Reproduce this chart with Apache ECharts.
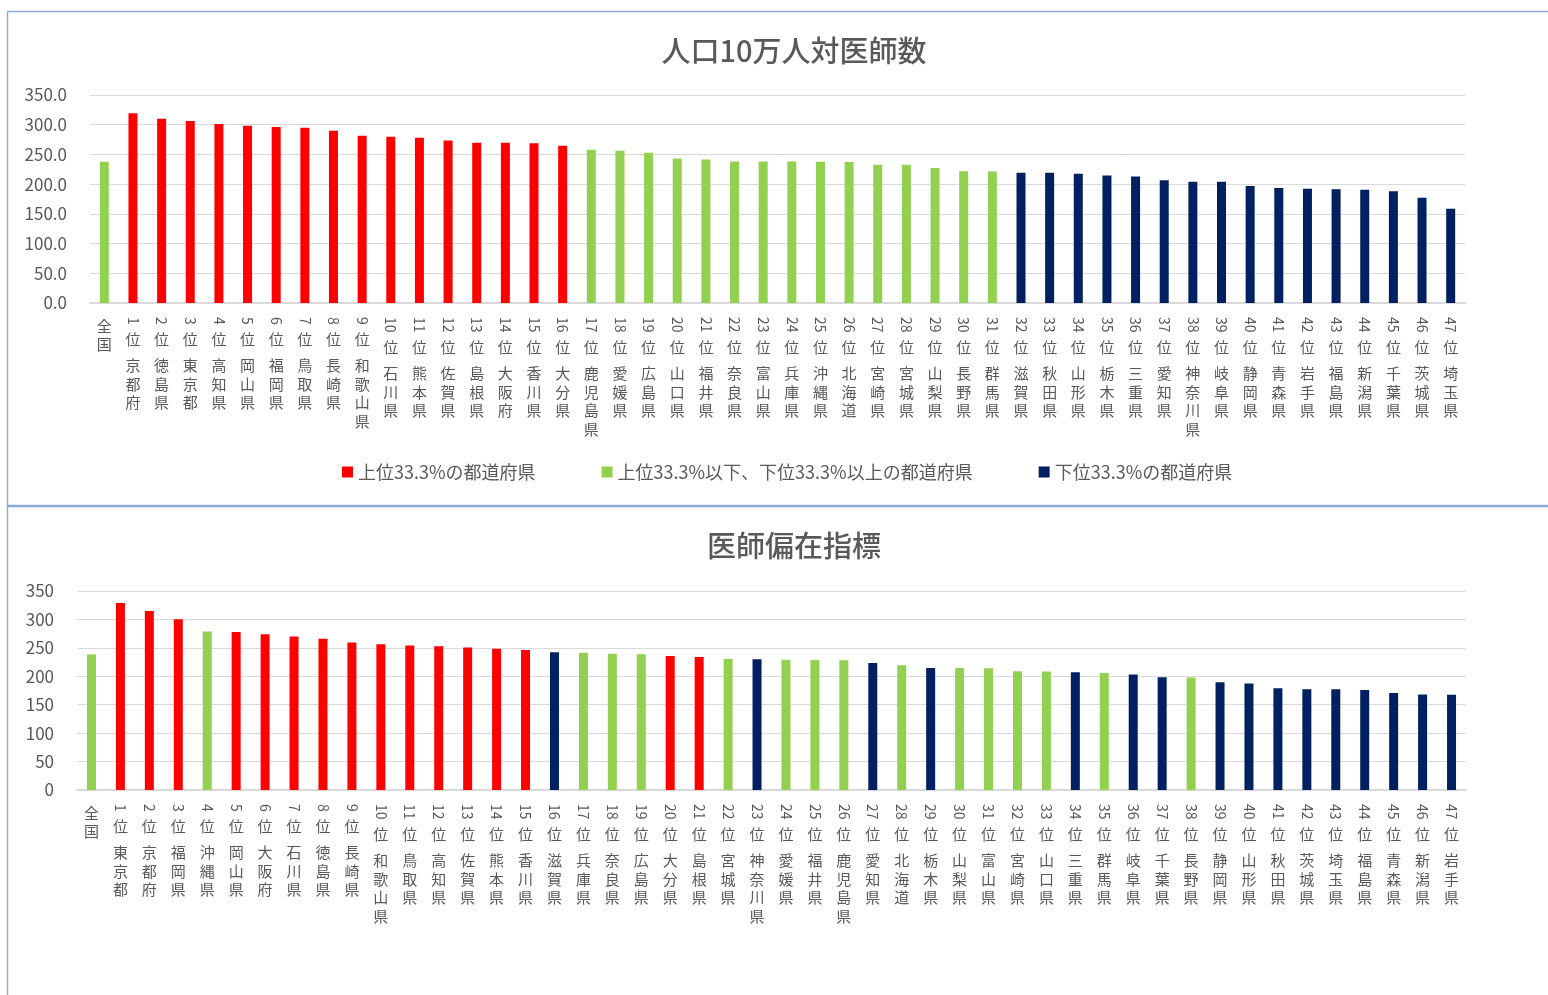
<!DOCTYPE html>
<html lang="ja">
<head>
<meta charset="utf-8">
<title>人口10万人対医師数・医師偏在指標</title>
<script src="https://cdn.jsdelivr.net/npm/echarts@6/dist/echarts.min.js"></script>
<style>
  html, body { margin: 0; padding: 0; background: #ffffff; }
  #chart { width: 1548px; height: 995px; }
</style>
</head>
<body>
<div id="chart"></div>
<script>
// 人口10万人対医師数（順位順）
const TOP_NAMES = ['全国', '京都府', '徳島県', '東京都', '高知県', '岡山県', '福岡県', '鳥取県', '長崎県', '和歌山県',
  '石川県', '熊本県', '佐賀県', '島根県', '大阪府', '香川県', '大分県', '鹿児島県', '愛媛県', '広島県',
  '山口県', '福井県', '奈良県', '富山県', '兵庫県', '沖縄県', '北海道', '宮崎県', '宮城県', '山梨県',
  '長野県', '群馬県', '滋賀県', '秋田県', '山形県', '栃木県', '三重県', '愛知県', '神奈川県', '岐阜県',
  '静岡県', '青森県', '岩手県', '福島県', '新潟県', '千葉県', '茨城県', '埼玉県'];
const TOP_VALUES = [237.7, 319.2, 310.2, 306.2, 301.2, 298.4, 296.1, 295.0, 290.0, 281.6,
  279.9, 278.2, 273.6, 269.8, 269.5, 268.6, 264.7, 258.0, 256.3, 252.9,
  243.3, 241.6, 238.2, 238.2, 238.2, 237.7, 237.1, 232.7, 232.7, 227.0,
  221.9, 221.4, 219.2, 219.2, 217.5, 214.6, 212.9, 206.7, 204.0, 204.0,
  196.7, 193.3, 192.2, 191.6, 190.5, 188.2, 177.0, 158.5];

// 医師偏在指標（順位順）
const BOTTOM_NAMES = ['全国', '東京都', '京都府', '福岡県', '沖縄県', '岡山県', '大阪府', '石川県', '徳島県', '長崎県',
  '和歌山県', '鳥取県', '高知県', '佐賀県', '熊本県', '香川県', '滋賀県', '兵庫県', '奈良県', '広島県',
  '大分県', '島根県', '宮城県', '神奈川県', '愛媛県', '福井県', '鹿児島県', '愛知県', '北海道', '栃木県',
  '山梨県', '富山県', '宮崎県', '山口県', '三重県', '群馬県', '岐阜県', '千葉県', '長野県', '静岡県',
  '山形県', '秋田県', '茨城県', '埼玉県', '福島県', '青森県', '新潟県', '岩手県'];
const BOTTOM_VALUES = [238.3, 328.9, 314.9, 300.4, 278.8, 278.1, 274.1, 270.0, 265.8, 259.5,
  256.5, 254.2, 253.0, 250.7, 248.3, 246.2, 242.1, 241.5, 239.8, 238.6,
  235.7, 233.9, 230.4, 229.8, 229.3, 228.7, 228.1, 223.4, 219.3, 214.7,
  214.7, 214.1, 208.8, 208.3, 207.1, 205.9, 203.0, 198.3, 197.8, 189.6,
  187.3, 179.1, 177.4, 177.4, 175.7, 170.5, 168.0, 167.4];

// 区分（人口10万人対医師数の順位による）
const TIER_NAMES = ['上位33.3%の都道府県', '上位33.3%以下、下位33.3%以上の都道府県', '下位33.3%の都道府県'];
const TIER_COLORS = ['#FF0000', '#92D050', '#002060'];
const TIER_RANK_LIMITS = [16, 31];

const TITLES = ['人口10万人対医師数', '医師偏在指標'];
const Y_MAX = 350;
const Y_STEP = 50;

const FONT = '"Noto Sans CJK JP", "Noto Sans", sans-serif';
const TEXT_COLOR = '#595959';
const GRID_COLOR = '#D9D9D9';

function tierOfRank(rank) {
  if (rank === 0) return 1;
  if (rank <= TIER_RANK_LIMITS[0]) return 0;
  if (rank <= TIER_RANK_LIMITS[1]) return 1;
  return 2;
}

const topTiers = TOP_NAMES.map((n, i) => tierOfRank(i));
const bottomTiers = BOTTOM_NAMES.map(n => tierOfRank(TOP_NAMES.indexOf(n)));

// 縦書きラベル：順位の数字は横倒し（別軸）、「位」と名称は一文字ずつ縦に並べる
function stackedLabel(name, idx) {
  const chars = Array.from(name).join('\n');
  if (idx === 0) return chars;
  return '{s' + String(idx).length + '| }\n位\n{g| }\n' + chars;
}
function rankDigits(name, idx) {
  return idx === 0 ? '' : String(idx);
}

const grids = [
  { left: 90, right: 83, top: 95, height: 208 },
  { left: 77, right: 82, top: 591, height: 199 }
];

function buildAxes(gridIndex, names, yFormatter) {
  const digitAxis = {
    type: 'category', gridIndex, data: names,
    axisLine: { show: true, lineStyle: { color: GRID_COLOR, width: 2 } },
    axisTick: { show: false },
    axisLabel: {
      interval: 0, rotate: -90, margin: 14, fontSize: 14,
      fontFamily: FONT, color: TEXT_COLOR, formatter: rankDigits
    }
  };
  const textAxis = {
    type: 'category', gridIndex, data: names, position: 'bottom',
    axisLine: { show: false }, axisTick: { show: false },
    axisLabel: {
      interval: 0, margin: 14, fontSize: 15, lineHeight: 18.5,
      fontFamily: FONT, color: TEXT_COLOR, formatter: stackedLabel,
      rich: {
        s1: { fontSize: 4, lineHeight: 13 },
        s2: { fontSize: 4, lineHeight: 21 },
        g: { fontSize: 4, lineHeight: 8 }
      }
    }
  };
  const yAxis = {
    type: 'value', gridIndex, min: 0, max: Y_MAX, interval: Y_STEP,
    axisLine: { show: false }, axisTick: { show: false },
    splitLine: { lineStyle: { color: GRID_COLOR, width: 1 } },
    axisLabel: { margin: 23, fontSize: 17, fontFamily: FONT, color: TEXT_COLOR, formatter: yFormatter }
  };
  return { x: [digitAxis, textAxis], y: yAxis };
}

const topAxes = buildAxes(0, TOP_NAMES, v => v.toFixed(1));
const bottomAxes = buildAxes(1, BOTTOM_NAMES, v => String(v));

function buildSeries(values, tiers, xAxisIndex, yAxisIndex, stackId) {
  return TIER_NAMES.map((tierName, t) => ({
    type: 'bar',
    name: tierName,
    stack: stackId,
    xAxisIndex, yAxisIndex,
    barWidth: 9,
    itemStyle: { color: TIER_COLORS[t] },
    data: values.map((v, i) => (tiers[i] === t ? v : '-'))
  }));
}

const titleStyle = { fontSize: 29, fontWeight: 500, color: TEXT_COLOR, fontFamily: FONT };

const chart = echarts.init(document.getElementById('chart'), null, { renderer: 'canvas' });
chart.setOption({
  animation: false,
  backgroundColor: '#ffffff',
  textStyle: { fontFamily: FONT },
  title: [
    { text: TITLES[0], left: 789, top: 31, textAlign: 'center', textStyle: titleStyle },
    { text: TITLES[1], left: 789, top: 526, textAlign: 'center', textStyle: titleStyle }
  ],
  legend: {
    data: TIER_NAMES,
    left: 337, top: 458,
    icon: 'rect', itemWidth: 11, itemHeight: 11, itemGap: 66,
    selectedMode: false,
    textStyle: { fontSize: 18, color: TEXT_COLOR, fontFamily: FONT }
  },
  grid: grids.map(g => Object.assign({ outerBoundsMode: 'none', containLabel: false }, g)),
  xAxis: [...topAxes.x, ...bottomAxes.x],
  yAxis: [topAxes.y, bottomAxes.y],
  series: [
    ...buildSeries(TOP_VALUES, topTiers, 0, 0, 'top'),
    ...buildSeries(BOTTOM_VALUES, bottomTiers, 2, 1, 'bottom')
  ],
  graphic: [
    { type: 'rect', silent: true, z: -1,
      shape: { x: 7.5, y: 11.5, width: 1600, height: 494 },
      style: { fill: null, stroke: '#8EAADB', lineWidth: 1.5 } },
    { type: 'rect', silent: true, z: -1,
      shape: { x: 7.5, y: 506.5, width: 1600, height: 600 },
      style: { fill: null, stroke: '#8EAADB', lineWidth: 1.5 } }
  ]
});
</script>
</body>
</html>
